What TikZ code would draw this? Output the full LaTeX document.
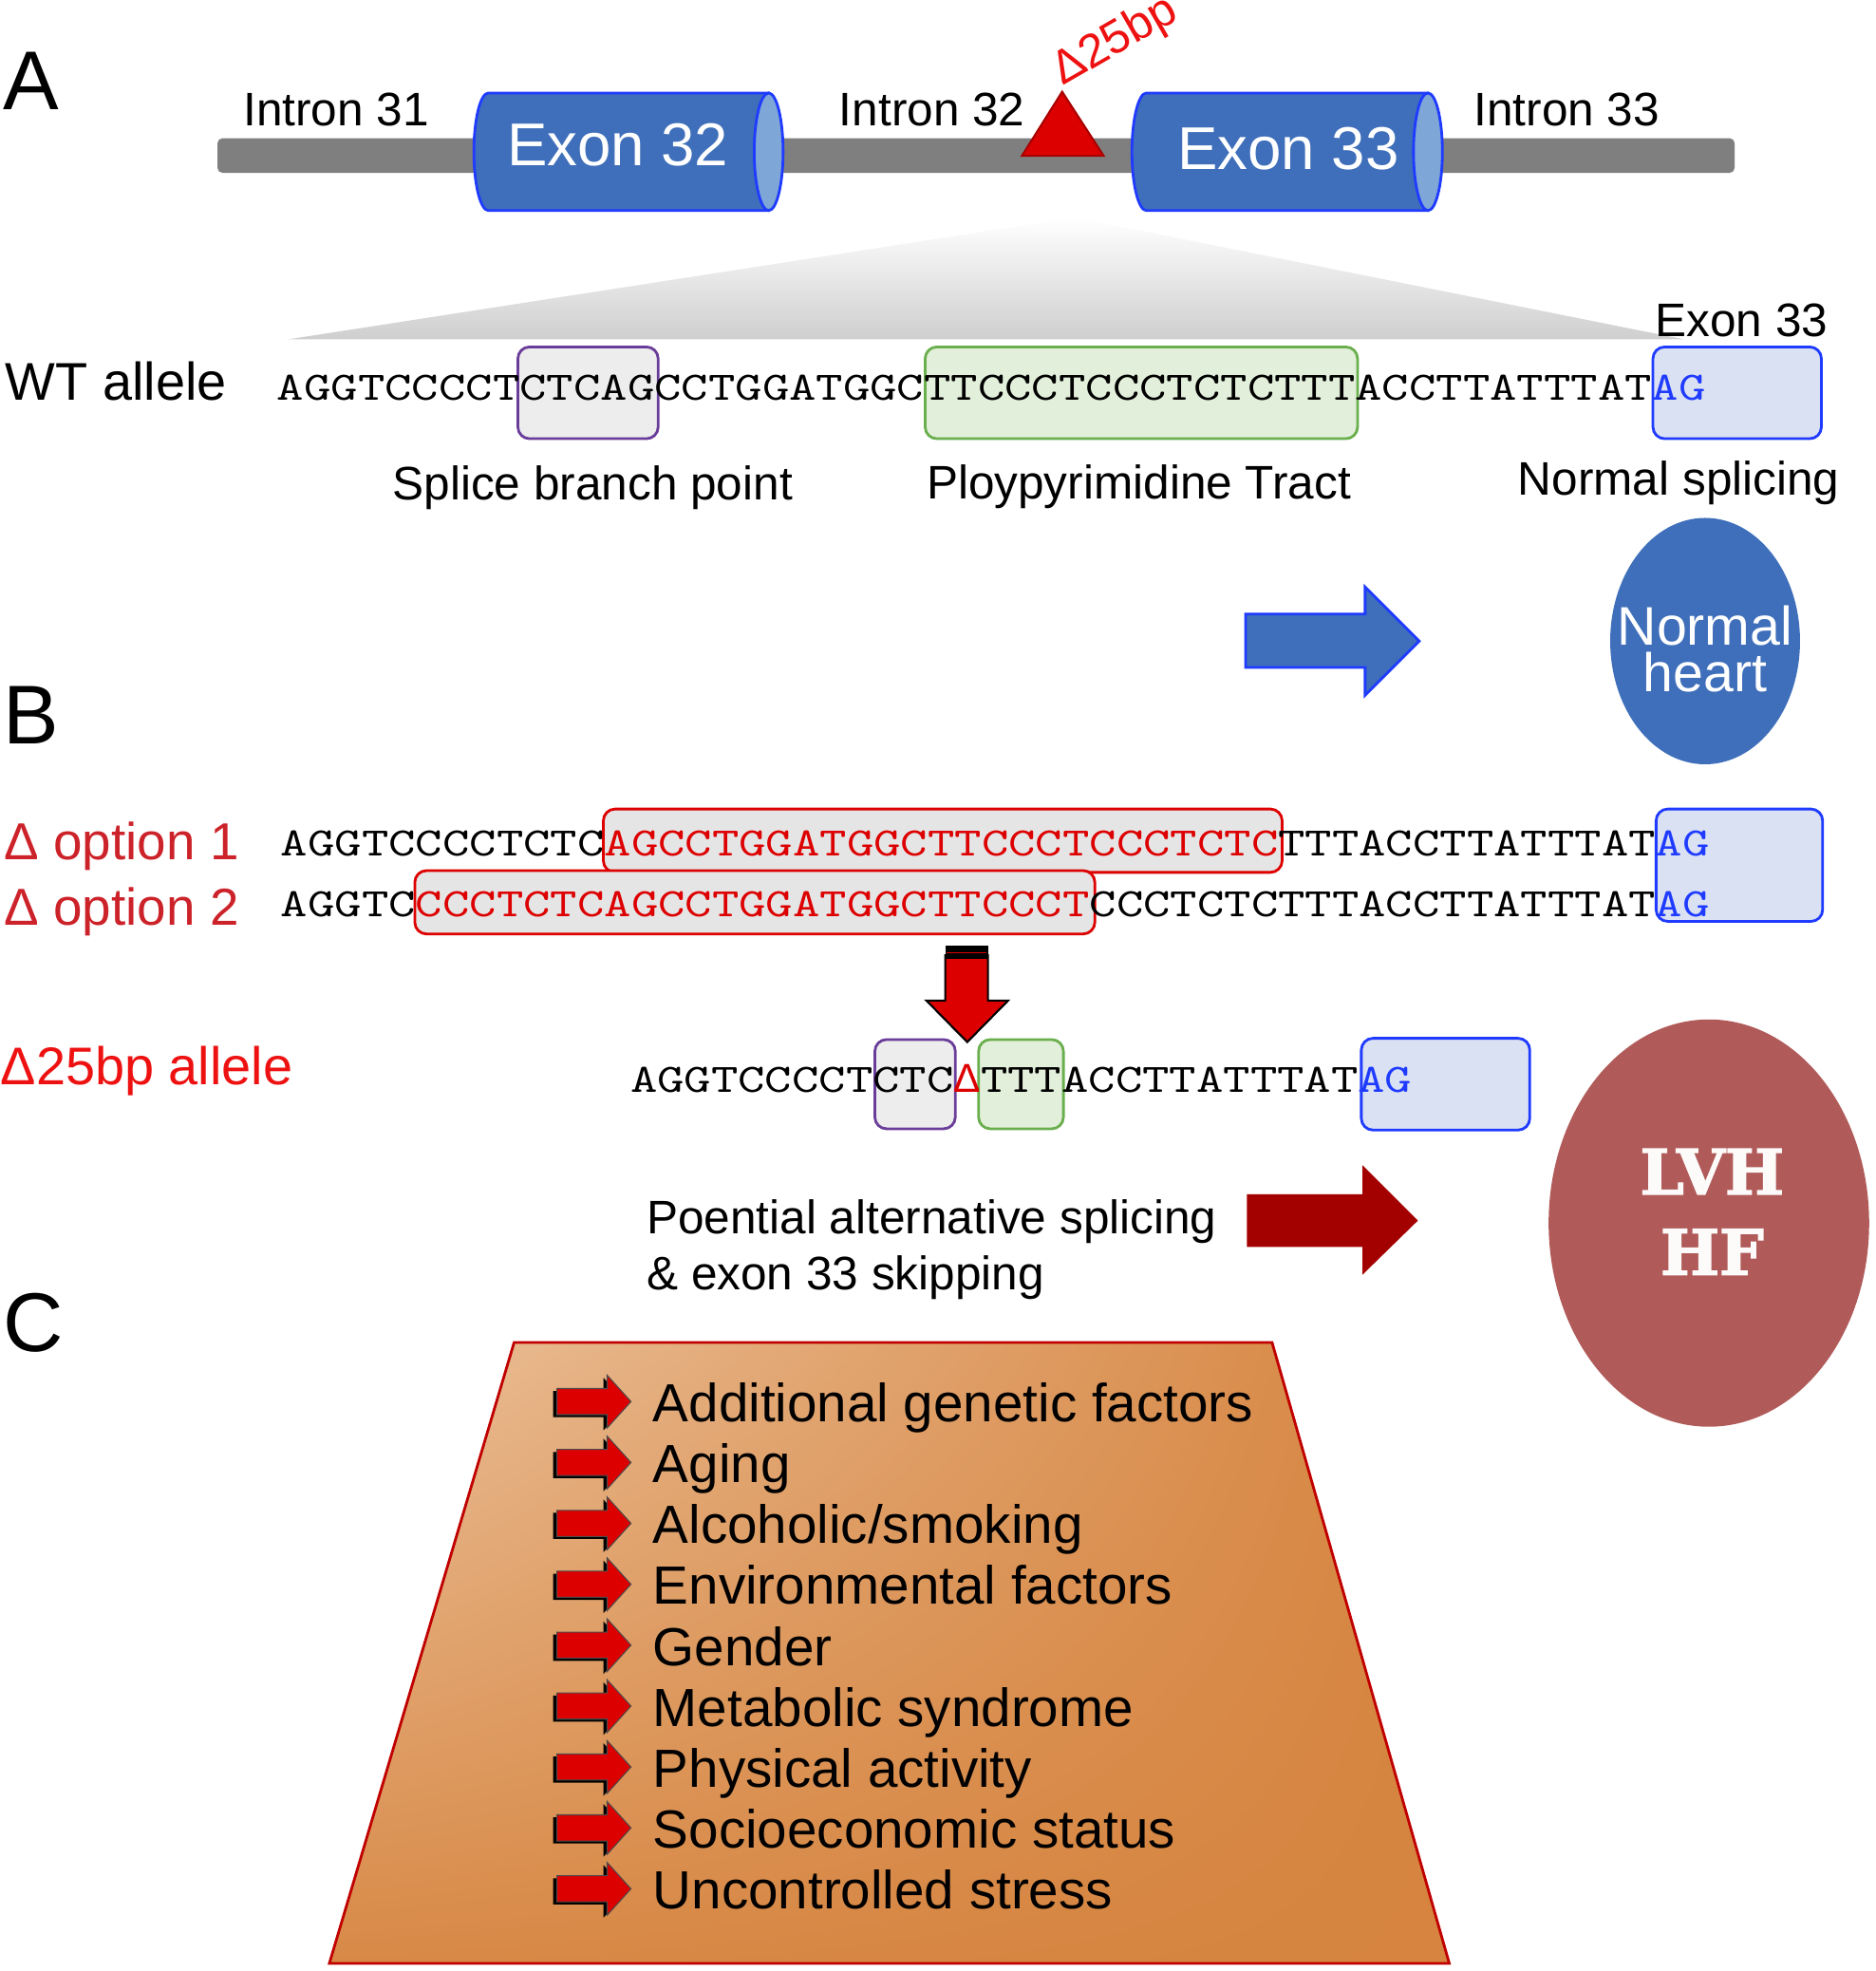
\documentclass[tikz,border=0pt]{standalone}
\usepackage{fontspec}
\usepackage{tikz}
\usetikzlibrary{positioning,calc,shadings}
\setmainfont{Liberation Sans}
\newfontfamily\seqfont{lmmono10-regular.otf}[FakeStretch=1.272]
\newfontfamily\lvhfont{DejaVu Serif}[BoldFeatures={FakeBold=2.2}]
\definecolor{exonblue}{HTML}{3F6FBA}
\definecolor{exonedge}{HTML}{1F3BFF}
\definecolor{capblue}{HTML}{7EA6D6}
\definecolor{introngray}{HTML}{7F7F7F}
\definecolor{delred}{HTML}{DD0000}
\definecolor{deledge}{HTML}{A80000}
\definecolor{bpviolet}{HTML}{6A3D9A}
\definecolor{bpfill}{HTML}{EDEDED}
\definecolor{ptgreen}{HTML}{6AAF4E}
\definecolor{ptfill}{HTML}{E2EFDA}
\definecolor{agfill}{HTML}{DAE1F2}
\definecolor{optred}{HTML}{CC2229}
\definecolor{optfill}{HTML}{E6E5E6}
\definecolor{alleleRed}{HTML}{EE1111}
\definecolor{darkred}{HTML}{A30000}
\definecolor{lvhred}{HTML}{B05B59}
\definecolor{tanlight}{HTML}{EBC29C}
\definecolor{tanorange}{HTML}{D6843F}
\definecolor{trapedge}{HTML}{C00000}

\tikzset{
  lbl/.style={inner sep=0pt, anchor=base, font=\fontsize{14.1}{16.57}\selectfont},
  panel/.style={inner sep=0pt, anchor=base west, font=\fontsize{25}{28}\selectfont},
  rowlbl/.style={inner sep=0pt, anchor=base west, font=\fontsize{15.6}{18}\selectfont},
  seq/.style={inner sep=0pt, anchor=base west, font=\seqfont\fontsize{12.1}{14}\selectfont},
  exontext/.style={inner sep=0pt, anchor=base, text=white, font=\fontsize{18.1}{20}\selectfont},
  exonbody/.style={fill=exonblue, draw=exonedge, line width=0.8pt},
  exoncap/.style={fill=capblue, draw=exonedge, line width=0.8pt},
  bpbox/.style={fill=bpfill, draw=bpviolet, line width=0.8pt, rounded corners=3.5pt},
  ptbox/.style={fill=ptfill, draw=ptgreen, line width=0.8pt, rounded corners=3.5pt},
  agbox/.style={fill=agfill, draw=exonedge, line width=0.8pt, rounded corners=3.5pt},
  delbox/.style={fill=optfill, draw=delred, line width=0.8pt, rounded corners=3.5pt},
  item/.style={inner sep=0pt, anchor=base west, font=\fontsize{16.1}{18}\selectfont},
  riskarrow/.pic={
    \fill[black] (-3,-8.4) -- (37,-8.4) -- (37,-19) -- (56,2) -- (37,23) -- (37,12.4) -- (-3,12.4) -- cycle;
    \filldraw[fill=delred, draw=black!70, line width=0.3pt] (0,-10.4) -- (40,-10.4) -- (40,-21) -- (59,0) -- (40,21) -- (40,10.4) -- (0,10.4) -- cycle;
  }
}

\newcommand{\red}[1]{\textcolor{delred}{#1}}
\newcommand{\ag}{\textcolor{exonedge}{AG}}

\begin{document}
\begin{tikzpicture}[x=0.013237cm, y=-0.013237cm]
  \useasboundingbox (0,0) rectangle (1492,1568);

  % ---------- Panel A ----------
  \node[panel] (pA) at (2,87) {A};

  % intron backbone
  \fill[introngray, rounded corners=1.5pt] (173,110) rectangle (1380,137.5);

  % Exon 32
  \filldraw[exonbody] (388.5,74) -- (611.5,74) -- (611.5,167.5) -- (388.5,167.5)
    arc[start angle=90, end angle=270, x radius=11.5, y radius=46.75] -- cycle;
  \filldraw[exoncap] (611.5,120.75) ellipse[x radius=11.5, y radius=46.75];
  \node[exontext] (ex32) at (491.5,131.5) {Exon 32};

  % Exon 33
  \filldraw[exonbody] (912,74) -- (1136,74) -- (1136,167.5) -- (912,167.5)
    arc[start angle=90, end angle=270, x radius=11.5, y radius=46.75] -- cycle;
  \filldraw[exoncap] (1136,120.75) ellipse[x radius=11.5, y radius=46.75];
  \node[exontext] (ex33) at (1025,135) {Exon 33};

  % intron labels
  \node[lbl] (in31) at (267.5,100) {Intron 31};
  \node[lbl] (in32) at (741.5,100) {Intron 32};
  \node[lbl] (in33) at (1246.5,100) {Intron 33};

  % deletion site
  \filldraw[fill=delred, draw=deledge, line width=0.6pt] (845,73) -- (878,124) -- (813,124) -- cycle;
  \node[inner sep=0pt, anchor=base west, rotate=30, text=alleleRed,
        font=\fontsize{14.1}{16}\selectfont] (d25) at (845,69) {Δ25bp};

  % zoom wedge
  \shade[top color=white, bottom color=black!19] (855,173) -- (1340,270) -- (229,270) -- cycle;

  % WT allele
  \node[lbl] (lex33) at (1385.5,268) {Exon 33};
  \node[inner sep=0pt, anchor=base west, font=\fontsize{15.9}{18}\selectfont] (wt) at (4,318) {WT allele};
  \draw[bpbox] (412,276) rectangle (523.6,349);
  \draw[ptbox] (736,276) rectangle (1080,349);
  \draw[agbox] (1315,276) rectangle (1449,349);
  \node[seq] (seqwt) at (220,318) {AGGTCCCCTCTCAGCCTGGATGGCTTCCCTCCCTCTCTTTACCTTATTTAT\ag};
  \node[lbl] (bp) at (471.5,398) {Splice branch point};
  \node[lbl] (ppt) at (906,396.6) {Ploypyrimidine Tract};
  \node[lbl] (ns) at (1335.5,394) {Normal splicing};

  % normal outcome
  \filldraw[fill=exonblue, draw=exonedge, line width=0.8pt]
    (991,488.5) -- (1086,488.5) -- (1086,467) -- (1129,510) -- (1086,553) -- (1086,531) -- (991,531) -- cycle;
  \fill[exonblue] (1356.5,510) ellipse[x radius=75.5, y radius=98];
  \node[inner sep=0pt, align=center, text=white, font=\fontsize{16.3}{13.9}\selectfont] (nh) at (1356.5,516) {Normal\\heart};

  % ---------- Panel B ----------
  \node[panel] (pB) at (2,592) {B};

  % deletion options
  \node[rowlbl, text=optred] (o1) at (3,684) {Δ option 1};
  \node[rowlbl, text=optred] (o2) at (3,736) {Δ option 2};
  \draw[delbox] (480,643.6) rectangle (1020,694);
  \draw[delbox] (330,692.6) rectangle (871,743);
  \draw[agbox] (1317.5,643.6) rectangle (1450,733);
  \node[seq] (seqo1) at (223,681) {AGGTCCCCTCTC\red{AGCCTGGATGGCTTCCCTCCCTCTC}TTTACCTTATTTAT\ag};
  \node[seq] (seqo2) at (223,729) {AGGTC\red{CCCTCTCAGCCTGGATGGCTTCCCT}CCCTCTCTTTACCTTATTTAT\ag};

  % down arrow
  \filldraw[fill=delred, draw=black, line width=0.6pt]
    (752,760) -- (786,760) -- (786,796) -- (802,796) -- (769.5,829) -- (737,796) -- (752,796) -- cycle;
  \fill[black] (752,752) rectangle (786,763);
  \draw[delred, line width=0.5pt] (753,758) -- (785,758);

  % deletion allele
  \node[inner sep=0pt, anchor=base west, text=alleleRed, font=\fontsize{15.9}{18}\selectfont] (del) at (0,863) {Δ25bp allele};
  \draw[bpbox] (696,827) rectangle (760,898);
  \draw[ptbox] (778.5,827) rectangle (846,898);
  \draw[agbox] (1083,826) rectangle (1217,899);
  \node[seq] (seqdel) at (501,869) {AGGTCCCCTCTC{\normalfont\red{Δ}}TTTACCTTATTTAT\ag};

  % disease outcome
  \node[inner sep=0pt, anchor=north west, align=left, font=\fontsize{14.1}{16.57}\selectfont] (alt) at (514,954.2)
    {Poential alternative splicing\\\& exon 33 skipping};
  \fill[darkred] (992,950) -- (1084,950) -- (1084,927) -- (1128,971) -- (1084,1014) -- (1084,992) -- (992,992) -- cycle;
  \fill[lvhred] (1359.5,973) ellipse[x radius=127.5, y radius=162];
  \node[inner sep=0pt, align=center, text=white!97!lvhred, font=\lvhfont\bfseries\fontsize{18.7}{24.1}\selectfont] (lvh) at (1362,964) {LVH\\HF};

  % ---------- Panel C ----------
  \node[panel] (pC) at (2,1075) {C};
  \shade[upper left=tanlight, upper right=tanorange, lower left=tanorange!92!tanlight, lower right=tanorange]
    (409,1068) -- (1012,1068) -- (1153,1562) -- (262,1562) -- cycle;
  \draw[trapedge, line width=0.8pt] (409,1068) -- (1012,1068) -- (1153,1562) -- (262,1562) -- cycle;

  % modifiers
  \pic at (443,1115) {riskarrow};
  \node[item] (f1) at (519,1131) {Additional genetic factors};
  \pic at (443,1163.45) {riskarrow};
  \node[item] (f2) at (519,1179.45) {Aging};
  \pic at (443,1211.9) {riskarrow};
  \node[item] (f3) at (519,1227.9) {Alcoholic/smoking};
  \pic at (443,1260.35) {riskarrow};
  \node[item] (f4) at (519,1276.35) {Environmental factors};
  \pic at (443,1308.8) {riskarrow};
  \node[item] (f5) at (519,1324.8) {Gender};
  \pic at (443,1357.25) {riskarrow};
  \node[item] (f6) at (519,1373.25) {Metabolic syndrome};
  \pic at (443,1405.7) {riskarrow};
  \node[item] (f7) at (519,1421.7) {Physical activity};
  \pic at (443,1454.15) {riskarrow};
  \node[item] (f8) at (519,1470.15) {Socioeconomic status};
  \pic at (443,1502.6) {riskarrow};
  \node[item] (f9) at (519,1518.6) {Uncontrolled stress};
\end{tikzpicture}
\end{document}
